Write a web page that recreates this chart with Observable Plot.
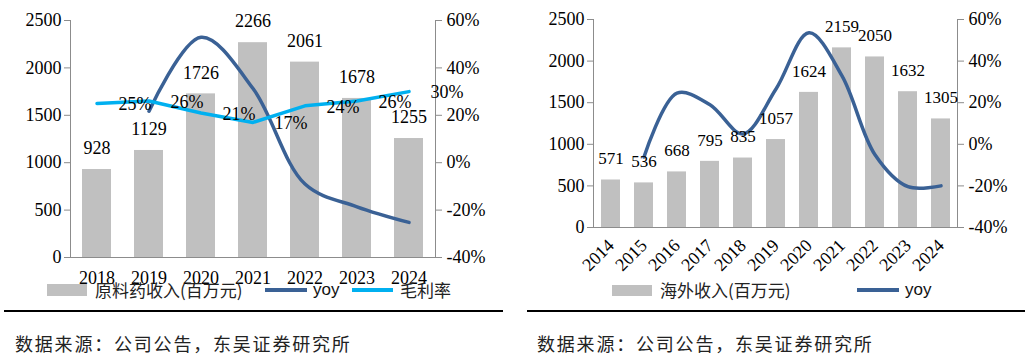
<!DOCTYPE html>
<html>
<head>
<meta charset="utf-8">
<script src="https://cdn.jsdelivr.net/npm/d3@7"></script>
<script src="https://cdn.jsdelivr.net/npm/@observablehq/plot@0.6"></script>
<style>
  html, body { margin: 0; padding: 0; background: #fff; }
  body { width: 1028px; height: 362px; position: relative; overflow: hidden; }
  .chart { position: absolute; top: 0; }
  .abs { position: absolute; }
  .swatch { background: #c0c0c0; }
  .cn { font-family: "Noto Sans CJK SC", sans-serif; font-size: 17px; line-height: 20px; height: 20px; color: #222; white-space: nowrap; }
  .sans { font-family: "Liberation Sans", sans-serif; font-size: 17px; line-height: 20px; height: 20px; color: #111; }
  .rule { background: #000; height: 2px; }
  .src { font-family: "Noto Sans CJK SC", sans-serif; font-size: 18px; letter-spacing: 1.8px; line-height: 24px; color: #222; white-space: nowrap; }
</style>
</head>
<body>
<div id="left" class="chart" style="left:0px"></div>
<div id="right" class="chart" style="left:520px"></div>

<div class="abs swatch" style="left:47px; top:284px; width:40px; height:12px"></div>
<div class="abs cn" style="left:95px; top:280px">原料药收入(百万元)</div>
<div class="abs" style="left:265px; top:288px; width:42px; height:4px; background:#3a6195"></div>
<div class="abs sans" style="left:313px; top:280px">yoy</div>
<div class="abs" style="left:352px; top:288px; width:41px; height:4px; background:#00b0f0"></div>
<div class="abs cn" style="left:400px; top:280px">毛利率</div>

<div class="abs swatch" style="left:612px; top:285px; width:40px; height:11px"></div>
<div class="abs cn" style="left:660px; top:280px">海外收入(百万元)</div>
<div class="abs" style="left:857px; top:288px; width:42px; height:4px; background:#3a6195"></div>
<div class="abs sans" style="left:905px; top:280px">yoy</div>

<div class="abs rule" style="left:4px; top:310px; width:499px"></div>
<div class="abs rule" style="left:527px; top:310px; width:498px"></div>
<div class="abs src" style="left:15px; top:331px">数据来源：公司公告，东吴证券研究所</div>
<div class="abs src" style="left:537px; top:331px">数据来源：公司公告，东吴证券研究所</div>

<script>
// ---- Left chart data ----
const leftYears = ["2018", "2019", "2020", "2021", "2022", "2023", "2024"];
const apiRevenue = [928, 1129, 1726, 2266, 2061, 1678, 1255];
const leftYoyYears = ["2019", "2020", "2021", "2022", "2023", "2024"];
const leftYoy = [21.7, 52.9, 31.3, -9.0, -18.6, -25.2];
const grossMargin = [25, 26, 21, 17, 24, 26, 30];

// ---- Right chart data ----
const rightYears = ["2014", "2015", "2016", "2017", "2018", "2019", "2020", "2021", "2022", "2023", "2024"];
const overseasRevenue = [571, 536, 668, 795, 835, 1057, 1624, 2159, 2050, 1632, 1305];
const rightYoyYears = ["2015", "2016", "2017", "2018", "2019", "2020", "2021", "2022", "2023", "2024"];
const rightYoy = [-6.1, 24.6, 19.0, 5.0, 26.6, 53.6, 32.9, -5.0, -20.4, -20.0];

// ---- Axis tick values ----
const leftTicks = [0, 500, 1000, 1500, 2000, 2500];
const pctMin = -40, pctMax = 60;
const yMax = 2500;
// map a percentage onto the primary (revenue) scale for the secondary axis
const pct = v => (v - pctMin) / (pctMax - pctMin) * yMax;
const pctLabel = d => Math.round(d / yMax * (pctMax - pctMin) + pctMin) + "%";
const numLabel = d => String(d);

const serif = "Liberation Serif, Times New Roman, serif";
const gray = "#8c8c8c";
const barFill = "#c0c0c0";
const darkBlue = "#3a6195";
const lightBlue = "#00b0f0";

const leftBars = leftYears.map((y, i) => ({year: y, v: apiRevenue[i]}));
const leftYoyData = leftYoyYears.map((y, i) => ({year: y, v: leftYoy[i]}));
const gmData = leftYears.map((y, i) => ({year: y, v: grossMargin[i]}));

const left = Plot.plot({
  width: 510, height: 300,
  marginLeft: 70, marginRight: 75, marginTop: 20, marginBottom: 43,
  style: {fontFamily: serif, fontSize: "18px", color: "#000", background: "transparent"},
  x: {domain: leftYears, paddingInner: 0.44, paddingOuter: 0.22, label: null},
  y: {domain: [0, yMax], label: null},
  marks: [
    Plot.barY(leftBars, {x: "year", y: "v", fill: barFill}),
    Plot.frame({anchor: "left", stroke: gray}),
    Plot.frame({anchor: "right", stroke: gray}),
    Plot.frame({anchor: "bottom", stroke: gray}),
    Plot.axisY({anchor: "left", ticks: leftTicks, tickSize: 6, tickPadding: 3, stroke: gray, fill: "#000", tickFormat: numLabel, fontFamily: serif, fontSize: 18, label: null}),
    Plot.axisY({anchor: "right", ticks: leftTicks, tickSize: 6, tickPadding: 5, stroke: gray, fill: "#000", tickFormat: pctLabel, fontFamily: serif, fontSize: 18, label: null}),
    Plot.axisX({tickSize: 0, tickPadding: 14, fill: "#000", fontFamily: serif, fontSize: 18, label: null}),
    Plot.line(leftYoyData, {x: "year", y: d => pct(d.v), stroke: darkBlue, strokeWidth: 3.5, curve: "catmull-rom"}),
    Plot.line(gmData, {x: "year", y: d => pct(d.v), stroke: lightBlue, strokeWidth: 3.5}),
    Plot.text(leftBars, {x: "year", y: "v", text: d => String(d.v), dy: -21, fill: "#000"}),
    Plot.text(gmData, {x: "year", y: d => pct(d.v), text: d => d.v + "%", dx: 38, dy: 1, fill: "#000"})
  ]
});
document.getElementById("left").append(left);

const rightBars = rightYears.map((y, i) => ({year: y, v: overseasRevenue[i]}));
const rightYoyData = rightYoyYears.map((y, i) => ({year: y, v: rightYoy[i]}));

const right = Plot.plot({
  width: 508, height: 300,
  marginLeft: 73, marginRight: 71, marginTop: 19, marginBottom: 73,
  style: {fontFamily: serif, fontSize: "17px", color: "#000", background: "transparent"},
  x: {domain: rightYears, paddingInner: 0.43, paddingOuter: 0.215, label: null},
  y: {domain: [0, yMax], label: null},
  marks: [
    Plot.barY(rightBars, {x: "year", y: "v", fill: barFill}),
    Plot.frame({anchor: "left", stroke: gray}),
    Plot.frame({anchor: "right", stroke: gray}),
    Plot.frame({anchor: "bottom", stroke: gray}),
    Plot.axisY({anchor: "left", ticks: leftTicks, tickSize: 6, tickPadding: 3, stroke: gray, fill: "#000", tickFormat: numLabel, fontFamily: serif, fontSize: 18, label: null}),
    Plot.axisY({anchor: "right", ticks: leftTicks, tickSize: 6, tickPadding: 5, stroke: gray, fill: "#000", tickFormat: pctLabel, fontFamily: serif, fontSize: 18, label: null}),
    Plot.axisX({tickSize: 0, tickPadding: 15, tickRotate: -45, fill: "#000", fontFamily: serif, fontSize: 18, label: null}),
    Plot.line(rightYoyData, {x: "year", y: d => pct(d.v), stroke: darkBlue, strokeWidth: 3.5, curve: "catmull-rom"}),
    Plot.text(rightBars, {x: "year", y: "v", text: d => String(d.v), dy: -21, fill: "#000"})
  ]
});
document.getElementById("right").append(right);
</script>
</body>
</html>
